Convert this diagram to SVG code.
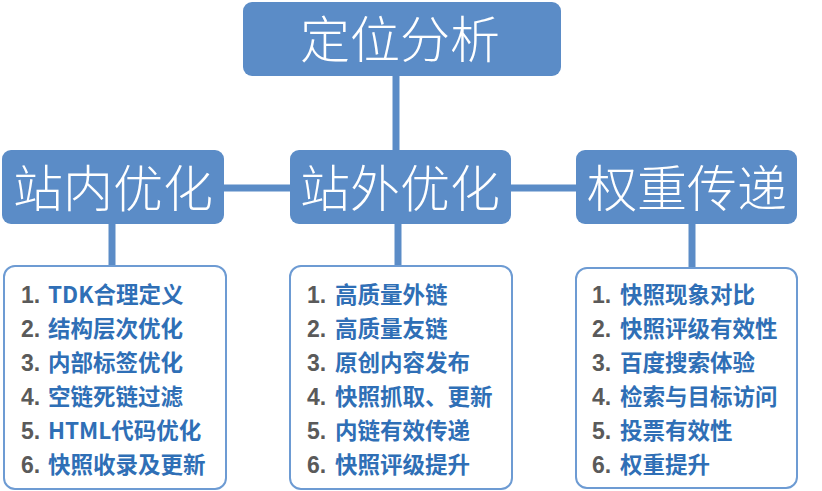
<svg xmlns="http://www.w3.org/2000/svg" width="822" height="491" viewBox="0 0 822 491">
<style>
.hdr{fill:#5b8cc7;}
.hdrtxt{fill:#ffffff;font-family:"Noto Sans CJK SC","Liberation Sans",sans-serif;font-weight:300;font-size:50px;text-anchor:middle;}
.list{fill:#ffffff;stroke:#6d9bd3;stroke-width:2;}
.item{font-family:"Liberation Sans","Noto Sans CJK SC",sans-serif;font-weight:bold;font-size:22.5px;}
.num{fill:#5a5a5a;font-size:23px;}
.txt{fill:#2f6fb6;font-family:"Noto Sans CJK SC",sans-serif;}
.conn{stroke:#5b8cc7;stroke-width:7;fill:none;}
</style>
<rect width="822" height="491" fill="#ffffff"/>
<g id="connectors">
<line class="conn" x1="396" y1="70" x2="396" y2="155"/>
<line class="conn" x1="220" y1="188" x2="295" y2="188"/>
<line class="conn" x1="506" y1="188" x2="580" y2="188"/>
<line class="conn" x1="112" y1="220" x2="112" y2="267"/>
<line class="conn" x1="398" y1="220" x2="398" y2="267"/>
<line class="conn" x1="692" y1="220" x2="692" y2="269"/>
</g>
<g id="dingwei">
<rect class="hdr" x="243" y="2" width="318" height="74" rx="9"/>
<text class="hdrtxt" x="400" y="58" font-size="51">定位分析</text>
</g>
<g id="zhannei">
<rect class="hdr" x="2" y="150" width="222" height="74" rx="9"/>
<text class="hdrtxt" x="113" y="207">站内优化</text>
</g>
<g id="zhanwai">
<rect class="hdr" x="290" y="150" width="221" height="74" rx="9"/>
<text class="hdrtxt" x="400" y="207">站外优化</text>
</g>
<g id="quanzhong">
<rect class="hdr" x="576" y="150" width="221" height="74" rx="9"/>
<text class="hdrtxt" x="687" y="207">权重传递</text>
</g>
<g id="list-zhannei">
<rect class="list" x="4" y="266" width="222" height="223" rx="11"/>
<text class="item" y="303"><tspan class="num" x="21">1.</tspan><tspan class="txt" x="48">TDK合理定义</tspan></text>
<text class="item" y="337"><tspan class="num" x="21">2.</tspan><tspan class="txt" x="48">结构层次优化</tspan></text>
<text class="item" y="371"><tspan class="num" x="21">3.</tspan><tspan class="txt" x="48">内部标签优化</tspan></text>
<text class="item" y="405"><tspan class="num" x="21">4.</tspan><tspan class="txt" x="48">空链死链过滤</tspan></text>
<text class="item" y="439"><tspan class="num" x="21">5.</tspan><tspan class="txt" x="48">HTML代码优化</tspan></text>
<text class="item" y="473"><tspan class="num" x="21">6.</tspan><tspan class="txt" x="48">快照收录及更新</tspan></text>
</g>
<g id="list-zhanwai">
<rect class="list" x="290" y="266" width="222" height="223" rx="11"/>
<text class="item" y="303"><tspan class="num" x="307">1.</tspan><tspan class="txt" x="335">高质量外链</tspan></text>
<text class="item" y="337"><tspan class="num" x="307">2.</tspan><tspan class="txt" x="335">高质量友链</tspan></text>
<text class="item" y="371"><tspan class="num" x="307">3.</tspan><tspan class="txt" x="335">原创内容发布</tspan></text>
<text class="item" y="405"><tspan class="num" x="307">4.</tspan><tspan class="txt" x="335">快照抓取、更新</tspan></text>
<text class="item" y="439"><tspan class="num" x="307">5.</tspan><tspan class="txt" x="335">内链有效传递</tspan></text>
<text class="item" y="473"><tspan class="num" x="307">6.</tspan><tspan class="txt" x="335">快照评级提升</tspan></text>
</g>
<g id="list-quanzhong">
<rect class="list" x="576" y="268" width="221" height="220" rx="11"/>
<text class="item" y="303"><tspan class="num" x="592">1.</tspan><tspan class="txt" x="620">快照现象对比</tspan></text>
<text class="item" y="337"><tspan class="num" x="592">2.</tspan><tspan class="txt" x="620">快照评级有效性</tspan></text>
<text class="item" y="371"><tspan class="num" x="592">3.</tspan><tspan class="txt" x="620">百度搜索体验</tspan></text>
<text class="item" y="405"><tspan class="num" x="592">4.</tspan><tspan class="txt" x="620">检索与目标访问</tspan></text>
<text class="item" y="439"><tspan class="num" x="592">5.</tspan><tspan class="txt" x="620">投票有效性</tspan></text>
<text class="item" y="473"><tspan class="num" x="592">6.</tspan><tspan class="txt" x="620">权重提升</tspan></text>
</g>
</svg>
